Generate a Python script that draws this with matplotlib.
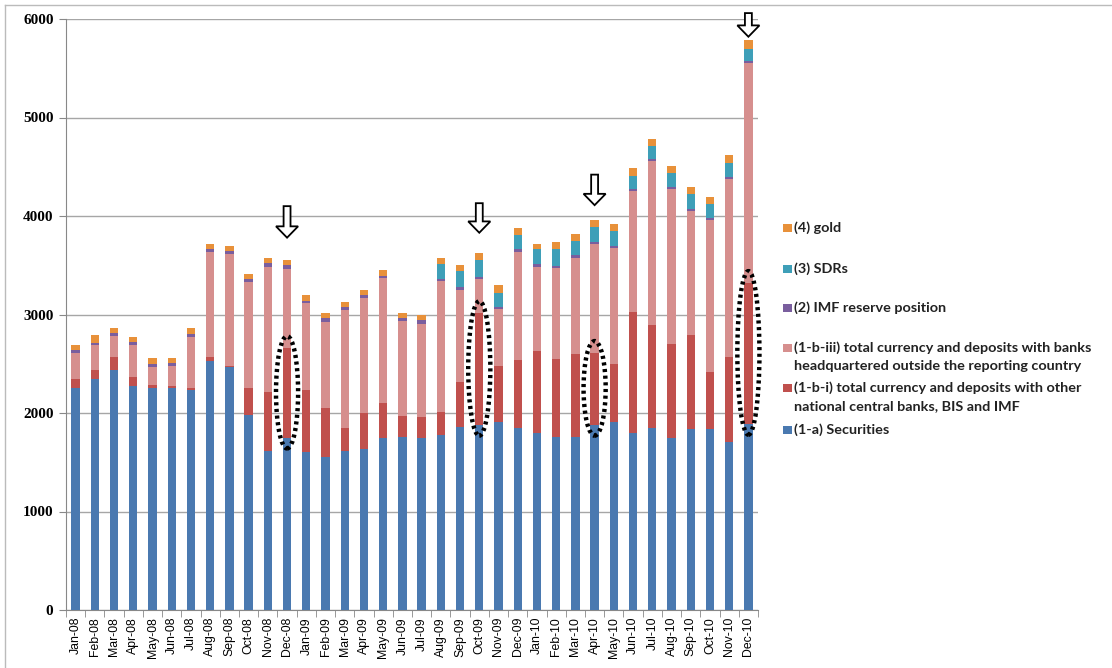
import matplotlib
matplotlib.use('Agg')
import matplotlib.pyplot as plt
from matplotlib.patches import Ellipse, FancyArrow, Rectangle
from matplotlib.lines import Line2D
import numpy as np

# Months and stacked series
months = ['Jan-08', 'Feb-08', 'Mar-08', 'Apr-08', 'May-08', 'Jun-08', 'Jul-08', 'Aug-08',
          'Sep-08', 'Oct-08', 'Nov-08', 'Dec-08', 'Jan-09', 'Feb-09', 'Mar-09', 'Apr-09',
          'May-09', 'Jun-09', 'Jul-09', 'Aug-09', 'Sep-09', 'Oct-09', 'Nov-09', 'Dec-09',
          'Jan-10', 'Feb-10', 'Mar-10', 'Apr-10', 'May-10', 'Jun-10', 'Jul-10', 'Aug-10',
          'Sep-10', 'Oct-10', 'Nov-10', 'Dec-10']
securities = [2255, 2345, 2440, 2275, 2255, 2255, 2235, 2530, 2470, 1980, 1615, 1750,
              1605, 1555, 1615, 1635, 1745, 1755, 1745, 1775, 1860, 1880, 1910, 1850,
              1800, 1755, 1755, 1880, 1910, 1795, 1850, 1745, 1840, 1840, 1705, 1890]
deposits_cb = [90, 90, 130, 90, 30, 20, 20, 40, 10, 275, 600, 910,
               630, 495, 235, 365, 355, 215, 215, 235, 455, 1135, 565, 690,
               830, 795, 845, 730, 590, 1230, 1040, 955, 950, 575, 865, 1430]
deposits_banks = [265, 255, 210, 325, 185, 200, 515, 1065, 1135, 1075, 1270, 800,
                  880, 875, 1195, 1170, 1270, 965, 945, 1330, 935, 345, 580, 1095,
                  855, 920, 975, 1105, 1175, 1230, 1670, 1575, 1260, 1545, 1805, 2235]
imf_position = [25, 25, 30, 30, 30, 30, 30, 35, 30, 30, 35, 40,
                25, 35, 30, 25, 25, 30, 35, 20, 25, 20, 25, 25,
                25, 25, 25, 25, 20, 20, 20, 20, 20, 20, 20, 20]
sdrs = [0, 0, 0, 0, 0, 0, 0, 0, 0, 0, 0, 0,
        0, 0, 0, 0, 0, 0, 0, 155, 165, 170, 140, 150,
        150, 165, 150, 145, 150, 135, 135, 145, 150, 145, 140, 120]
gold = [55, 75, 55, 55, 55, 55, 65, 45, 50, 50, 55, 55,
        60, 55, 50, 55, 55, 50, 55, 60, 60, 70, 80, 70,
        60, 75, 70, 75, 75, 80, 65, 70, 75, 70, 85, 90]

series_labels = ['(1-a) Securities',
                 '(1-b-i) total currency and deposits with other\nnational central banks, BIS and IMF',
                 '(1-b-iii) total currency and deposits with banks\nheadquartered outside the reporting country',
                 '(2) IMF reserve position', '(3) SDRs', '(4) gold']
colors = ['#4A79B0', '#C0504D', '#D68F8E', '#7A5E9E', '#3E9FB8', '#E8913A']

# highlighted months: arrow tip value and arrow length
highlight = ['Dec-08', 'Oct-09', 'Apr-10', 'Dec-10']
arrow_tips = [3780, 3830, 4110, 5820]
arrow_lens = [320, 300, 310, 240]

fig = plt.figure(figsize=(11.12, 6.68), dpi=100)
ax = fig.add_axes([66 / 1112, 58 / 668, (758 - 66) / 1112, (610 - 19) / 668])

x = np.arange(len(months))
data = [securities, deposits_cb, deposits_banks, imf_position, sdrs, gold]
bottom = np.zeros(len(months))
for vals, col in zip(data, colors):
    ax.bar(x, vals, width=0.43, bottom=bottom, color=col, linewidth=0, zorder=3)
    bottom += np.array(vals)

ax.set_xlim(-0.5, len(months) - 0.5)
ax.set_ylim(0, 6000)
ax.set_yticks(range(0, 6001, 1000))
ax.set_yticklabels([str(v) for v in range(0, 6001, 1000)],
                   fontfamily='Liberation Serif', fontweight='bold', fontsize=11)
ax.yaxis.grid(True, color='#A6A6A6', linewidth=1.0, zorder=0)
ax.set_xticks(x)
ax.set_xticklabels(months, rotation=90, fontfamily='Liberation Sans', fontsize=8.8)
ax.set_xticks(np.arange(-0.5, len(months), 1.0), minor=True)
ax.tick_params(axis='x', which='major', length=0, pad=5)
ax.tick_params(axis='x', which='minor', length=5, color='#888888')
ax.tick_params(axis='y', length=5, color='#888888', pad=4)
for s in ['top', 'right']:
    ax.spines[s].set_visible(False)
for s in ['left', 'bottom']:
    ax.spines[s].set_color('#888888')

for m, tip, ln in zip(highlight, arrow_tips, arrow_lens):
    i = months.index(m)
    ax.add_patch(FancyArrow(i, tip + ln, 0, -ln, width=0.36, head_width=1.15,
                            head_length=115, length_includes_head=True,
                            facecolor='white', edgecolor='black', linewidth=1.3,
                            zorder=6, clip_on=False))
    lo = securities[i] - 110
    hi = securities[i] + deposits_cb[i] + 120
    ax.add_patch(Ellipse((i, (lo + hi) / 2), 1.15, hi - lo, fill=False,
                         edgecolor='black', linewidth=3.2, linestyle=(0, (0.7, 0.8)),
                         zorder=5, clip_on=False))

# manual legend (handles sit on the first text line, like the original)
legend_rows = [(5, 228), (4, 269), (3, 308), (2, 348), (1, 388), (0, 430)]
for k, py in legend_rows:
    fy = 1 - py / 668
    fig.patches.append(Rectangle((783 / 1112, fy - 4 / 668), 9 / 1112, 8 / 668,
                                 transform=fig.transFigure, facecolor=colors[k],
                                 edgecolor='none'))
    for j, line in enumerate(series_labels[k].split('\n')):
        fig.text(794 / 1112, 1 - (py + j * 18) / 668, line, va='center', ha='left',
                 fontfamily='Lato', fontweight='bold', fontsize=10.4, color='#222222')

# thin outer frame of the chart area
fig.add_artist(Line2D([5 / 1112, 5 / 1112], [0, 1 - 5 / 668], transform=fig.transFigure,
                      color='#BBBBBB', linewidth=1))
fig.add_artist(Line2D([5 / 1112, 1], [1 - 5 / 668, 1 - 5 / 668], transform=fig.transFigure,
                      color='#BBBBBB', linewidth=1))

fig.savefig('out.png', dpi=100)
